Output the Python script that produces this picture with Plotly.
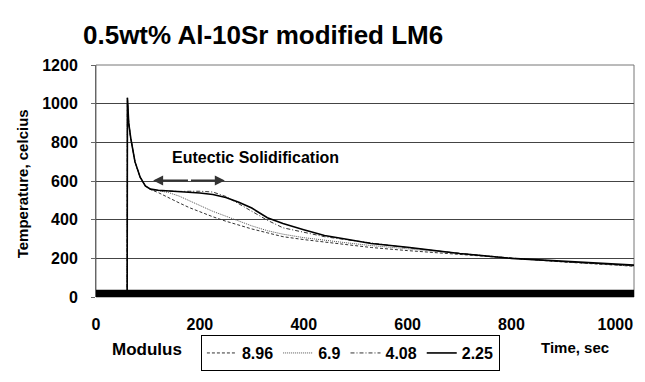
import plotly.graph_objects as go

# Time axis (s)
time_s = [60, 60.5, 63, 67, 75, 85, 95, 105, 120, 140, 160, 180, 200, 225, 250, 275,
          300, 330, 360, 400, 440, 480, 530, 600, 700, 800, 900, 1000, 1040]

# Temperatures (celcius) per modulus
t_896 = [0, 1030, 900, 820, 700, 620, 575, 556, 540, 512, 487, 462, 440, 415, 392, 372,
         352, 332, 312, 297, 285, 273, 256, 240, 220, 200, 181, 165, 158]
t_69 = [0, 1030, 900, 820, 700, 620, 575, 557, 550, 540, 522, 497, 472, 443, 418, 393,
        368, 343, 325, 307, 293, 281, 266, 249, 223, 201, 183, 167, 160]
t_408 = [0, 1030, 900, 820, 700, 620, 575, 557, 550, 547, 546, 547, 547, 543, 520, 482,
         442, 397, 358, 333, 312, 297, 278, 255, 226, 201, 183, 167, 161]
t_225 = [0, 1030, 900, 820, 700, 620, 575, 558, 552, 548, 545, 543, 538, 530, 515, 490,
         460, 410, 380, 348, 318, 300, 277, 257, 225, 200, 184, 170, 164]

series = [
    ("8.96", t_896, "3px,2px", "#333333", 1),
    ("6.9", t_69, "1px,1px", "#555555", 1),
    ("4.08", t_408, "4px,2px,1px,2px", "#333333", 1),
    ("2.25", t_225, "solid", "#000000", 1.6),
]

FONT = "Liberation Sans, Arial, sans-serif"

fig = go.Figure()
for name, vals, dash, color, w in series:
    fig.add_trace(go.Scatter(
        x=time_s, y=vals, mode="lines", name=name,
        line=dict(color=color, width=w, dash=dash),
    ))

fig.update_layout(
    width=645, height=382,
    margin=dict(l=96, r=11, t=65, b=79),
    paper_bgcolor="white", plot_bgcolor="white",
    font=dict(family=FONT, size=16, color="black", weight="bold"),
    showlegend=True,
    legend=dict(
        orientation="h", x=0.195, y=-0.164, xanchor="left", yanchor="top",
        bordercolor="black", borderwidth=1, bgcolor="white",
        font=dict(family=FONT, size=16, color="black", weight="bold"),
        itemwidth=30, tracegroupgap=0,
    ),
    xaxis=dict(
        range=[0, 1036], tickvals=[0, 200, 400, 600, 800, 1000],
        showgrid=False, zeroline=False, showline=False,
        ticks="", ticklabelstandoff=16,
        tickfont=dict(family=FONT, size=16, weight="bold"),
        mirror=False,
    ),
    yaxis=dict(
        range=[0, 1200], tickvals=[0, 200, 400, 600, 800, 1000, 1200],
        showgrid=True, gridcolor="#444444", gridwidth=1,
        zeroline=False, showline=True, linecolor="#666666", linewidth=1,
        ticks="outside", ticklen=4, tickcolor="#666666", ticklabelstandoff=10,
        tickfont=dict(family=FONT, size=16, weight="bold"),
    ),
    shapes=[
        dict(type="rect", xref="paper", yref="paper", x0=0, x1=1, y0=0, y1=1,
             line=dict(color="#777777", width=1), layer="below"),
        dict(type="rect", xref="paper", yref="y", x0=0, x1=1, y0=0, y1=38,
             fillcolor="black", line=dict(width=0), layer="above"),
    ],
    annotations=[
        dict(text="0.5wt% Al-10Sr modified LM6", xref="paper", yref="paper",
             x=0.31, y=1.0, yshift=30, xanchor="center", yanchor="middle",
             showarrow=False,
             font=dict(family=FONT, size=26, weight="bold")),
        dict(text="Temperature, celcius", xref="paper", yref="paper",
             x=-0.137, y=0.487, xanchor="center", yanchor="middle",
             textangle=-90, showarrow=False,
             font=dict(family=FONT, size=15, weight="bold")),
        dict(text="Time, sec", xref="paper", yref="paper",
             x=0.89, y=-0.218, xanchor="center", yanchor="middle",
             showarrow=False,
             font=dict(family=FONT, size=15, weight="bold")),
        dict(text="Modulus", xref="paper", yref="paper",
             x=0.095, y=-0.227, xanchor="center", yanchor="middle",
             showarrow=False,
             font=dict(family=FONT, size=17, weight="bold")),
        dict(text="Eutectic Solidification", xref="x", yref="y",
             x=308, y=722, xanchor="center", yanchor="middle", showarrow=False,
             font=dict(family=FONT, size=16, weight="bold")),
        dict(text="", xref="x", yref="y", axref="x", ayref="y",
             x=110, y=603, ax=180, ay=603, showarrow=True,
             arrowhead=2, arrowsize=1, arrowwidth=2, arrowcolor="#333333"),
        dict(text="", xref="x", yref="y", axref="x", ayref="y",
             x=248, y=603, ax=180, ay=603, showarrow=True,
             arrowhead=2, arrowsize=1, arrowwidth=2, arrowcolor="#333333"),
    ],
)

fig.write_html("out.html")
